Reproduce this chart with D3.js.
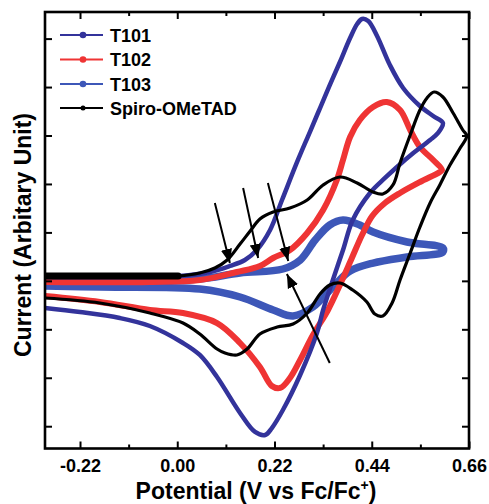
<!DOCTYPE html>
<html><head><meta charset="utf-8">
<script src="https://cdn.jsdelivr.net/npm/d3@7"></script>
<style>
body{margin:0;background:#fff}
svg{display:block}
text{font-family:"Liberation Sans",Arial,sans-serif;font-weight:bold;fill:#000}
</style>
</head><body>
<svg id="c" width="489" height="504"></svg>
<script>
// ---- data (potential in V vs Fc/Fc+, current in arbitrary units) ----
const xTicks = [-0.22, 0.00, 0.22, 0.44, 0.66];
const xTickLabels = ["-0.22", "0.00", "0.22", "0.44", "0.66"];
const xMinorTicks = [-0.11, 0.11, 0.33, 0.55];
const yTicks = [-3, -2, -1, 0, 1, 2, 3, 4, 5];
const seriesNames = ["T101", "T102", "T103", "Spiro-OMeTAD"];

const t101 = [
  [-0.299,0.079],[-0.130,0.079],[0.006,0.100],[0.074,0.183],[0.119,0.307],[0.153,0.430],
  [0.180,0.636],[0.210,1.049],[0.237,1.669],[0.273,2.495],[0.300,3.072],[0.323,3.567],
  [0.345,4.042],[0.368,4.517],[0.391,5.012],[0.407,5.301],[0.418,5.405],[0.432,5.363],
  [0.452,5.054],[0.481,4.455],[0.511,3.981],[0.549,3.609],[0.579,3.402],[0.601,3.258],
  [0.590,3.052],[0.572,2.907],[0.534,2.639],[0.497,2.350],[0.470,2.123],[0.436,1.814],
  [0.397,1.256],[0.375,0.636],[0.352,0.018],[0.330,-0.601],[0.316,-1.077],[0.278,-1.943],
  [0.239,-2.665],[0.214,-3.037],[0.199,-3.181],[0.176,-3.119],[0.142,-2.727],[0.090,-1.984],
  [0.051,-1.530],[0.013,-1.282],[-0.062,-0.932],[-0.130,-0.767],[-0.220,-0.643],[-0.299,-0.560]
];
const t102 = [
  [-0.299,-0.024],[-0.062,-0.024],[0.051,0.018],[0.135,0.183],[0.187,0.307],[0.217,0.472],
  [0.255,0.636],[0.294,0.988],[0.330,1.462],[0.361,2.082],[0.375,2.495],[0.391,2.969],
  [0.413,3.320],[0.443,3.588],[0.474,3.691],[0.504,3.526],[0.527,3.113],[0.549,2.763],
  [0.579,2.495],[0.599,2.288],
  [0.594,2.246],[0.549,2.040],[0.504,1.814],[0.470,1.607],[0.441,1.338],[0.418,0.946],
  [0.395,0.472],[0.368,-0.085],[0.341,-0.601],[0.307,-1.118],[0.278,-1.633],[0.255,-2.005],
  [0.233,-2.211],[0.214,-2.170],[0.187,-1.778],[0.142,-1.282],[0.090,-0.870],[0.013,-0.664],
  [-0.062,-0.601],[-0.175,-0.436],[-0.299,-0.313]
];
const t103 = [
  [-0.299,-0.003],[-0.062,-0.003],[0.051,0.038],[0.142,0.162],[0.239,0.245],[0.278,0.430],
  [0.312,0.843],[0.345,1.153],[0.375,1.256],[0.413,1.153],[0.443,1.008],[0.520,0.802],
  [0.601,0.678],
  [0.601,0.595],[0.520,0.492],[0.443,0.368],[0.391,0.203],[0.352,-0.127],[0.307,-0.540],
  [0.262,-0.725],[0.217,-0.601],[0.142,-0.333],[0.051,-0.168],[-0.175,-0.127],[-0.299,-0.106]
];
const spiro = [
  [-0.299,0.100],[0.002,0.100],[0.051,0.162],[0.085,0.265],[0.113,0.430],[0.142,0.760],
  [0.165,1.029],[0.187,1.277],[0.217,1.421],[0.255,1.504],[0.294,1.669],[0.330,1.979],
  [0.368,2.143],[0.407,2.020],[0.443,1.834],[0.465,1.793],[0.488,1.979],[0.504,2.432],
  [0.527,3.010],[0.549,3.526],[0.565,3.774],[0.581,3.898],[0.601,3.795],[0.624,3.464],
  [0.646,3.113],[0.655,2.990],
  [0.640,2.742],[0.617,2.391],[0.594,1.979],[0.572,1.607],[0.549,1.111],[0.527,0.575],
  [0.504,0.018],[0.486,-0.457],[0.465,-0.725],[0.447,-0.684],[0.429,-0.437],[0.397,-0.189],
  [0.368,-0.044],[0.345,-0.085],[0.323,-0.271],[0.294,-0.664],[0.262,-0.891],[0.226,-0.953],
  [0.187,-1.097],[0.158,-1.407],[0.135,-1.530],[0.108,-1.489],[0.090,-1.407],[0.051,-1.097],
  [0.013,-0.870],[-0.062,-0.664],[-0.175,-0.457],[-0.299,-0.354]
];
// arrows: [fromPotential, fromCurrent, toPotential, toCurrent]
const arrows = [
  [0.085,1.607,0.119,0.369],
  [0.149,1.917,0.183,0.472],
  [0.205,2.020,0.251,0.410],
  [0.345,-1.695,0.248,0.141]
];

// ---- styles ----
const colors = ["#33339b", "#ef3434", "#3d57b8", "#000000"];
const widths = [4.5, 6, 7.5, 3.2];

const svg = d3.select("#c");
const L = 45, R = 469, T = 12, B = 448.5;
const x = d3.scaleLinear().domain([-0.2992, 0.66]).range([L, R]);
const y = d3.scaleLinear().domain([-3.46, 5.549]).range([B, T]);

const line = d3.line().x(d => x(d[0])).y(d => y(d[1])).curve(d3.curveCatmullRom.alpha(0.5));

svg.append("defs").append("clipPath").attr("id","clip")
  .append("rect").attr("x",L).attr("y",T).attr("width",R-L).attr("height",B-T);

const plot = svg.append("g").attr("clip-path","url(#clip)");
const order = [2, 1, 0, 3];
const datasets = [t101, t102, t103, spiro];
order.forEach(i => {
  plot.append("path").attr("d", line(datasets[i])).attr("fill","none")
    .attr("stroke", colors[i]).attr("stroke-width", widths[i])
    .attr("stroke-linejoin","round").attr("stroke-linecap","round");
});
// thick baseline start of Spiro trace
plot.append("path").attr("d", line(spiro.slice(0,2))).attr("fill","none")
  .attr("stroke","#000").attr("stroke-width",7).attr("stroke-linecap","round");

// arrows
const defs = svg.select("defs");
defs.append("marker").attr("id","ah").attr("viewBox","0 0 10 10").attr("refX",10).attr("refY",5)
  .attr("markerWidth",7).attr("markerHeight",7).attr("markerUnits","strokeWidth").attr("orient","auto")
  .append("path").attr("d","M0,1 L10,5 L0,9 Z").attr("fill","#000");
arrows.forEach(a => {
  svg.append("line").attr("x1",x(a[0])).attr("y1",y(a[1])).attr("x2",x(a[2])).attr("y2",y(a[3]))
    .attr("stroke","#000").attr("stroke-width",2).attr("marker-end","url(#ah)");
});

// axes
function styleAxis(g){ g.select(".domain").remove(); g.selectAll("line").attr("stroke","#000").attr("stroke-width",2); }
svg.append("g").attr("transform",`translate(0,${B})`)
  .call(d3.axisBottom(x).tickValues(xTicks).tickSize(-7).tickPadding(11).tickFormat((d,i)=>xTickLabels[i]))
  .call(styleAxis)
  .call(g=>g.selectAll("text").attr("font-size",18).attr("font-family","Liberation Sans, Arial, sans-serif").attr("font-weight","bold").attr("fill","#000"));
svg.append("g").attr("transform",`translate(0,${B})`)
  .call(d3.axisBottom(x).tickValues(xMinorTicks).tickSize(-4).tickFormat(""))
  .call(styleAxis);
svg.append("g").attr("transform",`translate(0,${T})`)
  .call(d3.axisTop(x).tickValues(xTicks).tickSize(-7).tickFormat(""))
  .call(styleAxis);
svg.append("g").attr("transform",`translate(0,${T})`)
  .call(d3.axisTop(x).tickValues(xMinorTicks).tickSize(-4).tickFormat(""))
  .call(styleAxis);
svg.append("g").attr("transform",`translate(${L},0)`)
  .call(d3.axisLeft(y).tickValues(yTicks).tickSize(-7).tickFormat(""))
  .call(styleAxis);
svg.append("g").attr("transform",`translate(${R},0)`)
  .call(d3.axisRight(y).tickValues(yTicks).tickSize(-7).tickFormat(""))
  .call(styleAxis);

svg.append("rect").attr("x",L).attr("y",T).attr("width",R-L).attr("height",B-T)
  .attr("fill","none").attr("stroke","#000").attr("stroke-width",2.6);

// axis titles
const xt = svg.append("text").attr("x",(L+R)/2+-1).attr("y",499).attr("text-anchor","middle").attr("font-size",23);
xt.append("tspan").text("Potential (V vs Fc/Fc");
xt.append("tspan").text("+").attr("font-size",14).attr("dy",-9);
xt.append("tspan").text(")").attr("dy",9);
svg.append("text").attr("transform","translate(31,235) rotate(-90)").attr("text-anchor","middle")
  .attr("font-size",23).text("Current (Arbitary Unit)");

// legend
const legY = [35, 59.5, 84, 108];
seriesNames.forEach((n,i) => {
  const g = svg.append("g");
  g.append("line").attr("x1",60).attr("x2",103).attr("y1",legY[i]).attr("y2",legY[i])
    .attr("stroke",colors[i]).attr("stroke-width",2);
  g.append("circle").attr("cx",83).attr("cy",legY[i]).attr("r", i===3?2.5:3.3).attr("fill",colors[i]);
  g.append("text").attr("x",110).attr("y",legY[i]+6.5).attr("font-size",18).text(n);
});
</script>
</body></html>
